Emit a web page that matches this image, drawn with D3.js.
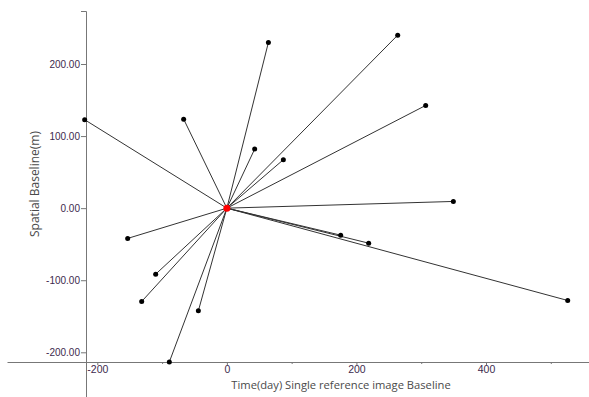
<!DOCTYPE html>
<html>
<head>
<meta charset="utf-8">
<script src="https://cdn.jsdelivr.net/npm/d3@7"></script>
<style>
  body { margin: 0; background: #fff; }
  svg { display: block; font-family: "Open Sans", "DejaVu Sans", sans-serif; }
</style>
</head>
<body>
<div id="board"></div>
<script>
// baseline data: time (day) and spatial baseline (m) of each secondary image
const timeDays = [-219.5, -66.7, 64.1, 42.9, 87.2, 263.7, 306.9, 349.6, 175.7, 218.9, 526.1, -153.1, -109.9, -131.5, -44.0, -88.8];
const spatialM = [122.7, 123.5, 229.9, 81.9, 67.2, 240.0, 142.5, 9.3, -37.5, -48.6, -128.1, -42.0, -91.6, -129.5, -142.4, -213.4];
const reference = [0, 0];
const xTicks = [-200, -100, 0, 100, 200, 300, 400, 500];
const xLabels = [-200, 0, 200, 400];
const yTicks = [-200, -100, 0, 100, 200];

const width = 589;
const height = 397;

// scales
const x = d3.scaleLinear().domain([-200, 400]).range([97.3, 486]);
const y = d3.scaleLinear().domain([-200, 200]).range([352.3, 64]);

const svg = d3.select("#board").append("svg")
    .attr("width", width)
    .attr("height", height);

const axisX = 86, axisY = 362;

// x-axis (spans wider than data)
const xa = x.copy().domain([x.invert(7), x.invert(589)]).range([7, 589]);
const gx = svg.append("g")
    .attr("transform", `translate(0,${axisY})`)
    .call(d3.axisBottom(xa).tickValues(xTicks).tickSizeOuter(0)
        .tickFormat(d => xLabels.includes(d) ? String(d) : ""));
gx.select(".domain").attr("stroke", "#777");
gx.selectAll(".tick line").attr("stroke", "#777")
    .attr("y2", d => xLabels.includes(d) ? 3 : 2);
gx.selectAll(".tick text").attr("fill", "#3d2a4d").attr("font-size", 10.5).attr("y", 4);

// y-axis
const ya = y.copy().domain([y.invert(397), y.invert(11)]).range([397, 11]);
const gy = svg.append("g")
    .attr("transform", `translate(${axisX},0)`)
    .call(d3.axisLeft(ya).tickValues(yTicks).tickSizeOuter(0).tickSize(5)
        .tickFormat(d => d.toFixed(2)));
gy.select(".domain").attr("stroke", "#777");
gy.selectAll(".tick line").attr("stroke", "#777");
gy.selectAll(".tick text").attr("fill", "#3d2a4d").attr("font-size", 10).attr("x", -6);

// axis titles
svg.append("text")
    .attr("x", 341).attr("y", 389)
    .attr("text-anchor", "middle")
    .attr("font-size", 11.2)
    .attr("fill", "#4a4a4a")
    .text("Time(day) Single reference image Baseline");

svg.append("text")
    .attr("transform", "translate(39,184) rotate(-90)")
    .attr("text-anchor", "middle")
    .attr("font-size", 12)
    .attr("fill", "#4a4a4a")
    .text("Spatial Baseline(m)");

const pts = timeDays.map((d, i) => ({t: d, b: spatialM[i]}));

// baseline links
svg.append("g").selectAll("line")
    .data(pts)
    .enter()
    .append("line")
    .attr("x1", x(reference[0]))
    .attr("y1", y(reference[1]))
    .attr("x2", d => x(d.t))
    .attr("y2", d => y(d.b))
    .attr("stroke", "#333")
    .attr("stroke-width", 1);

svg.append("g").selectAll("circle")
    .data(pts)
    .enter()
    .append("circle")
    .attr("cx", d => x(d.t))
    .attr("cy", d => y(d.b))
    .attr("r", 2.5)
    .attr("fill", "#000");

// reference image
svg.append("circle")
    .attr("cx", x(reference[0]))
    .attr("cy", y(reference[1]))
    .attr("r", 3.5)
    .attr("fill", "#f00");
</script>
</body>
</html>
